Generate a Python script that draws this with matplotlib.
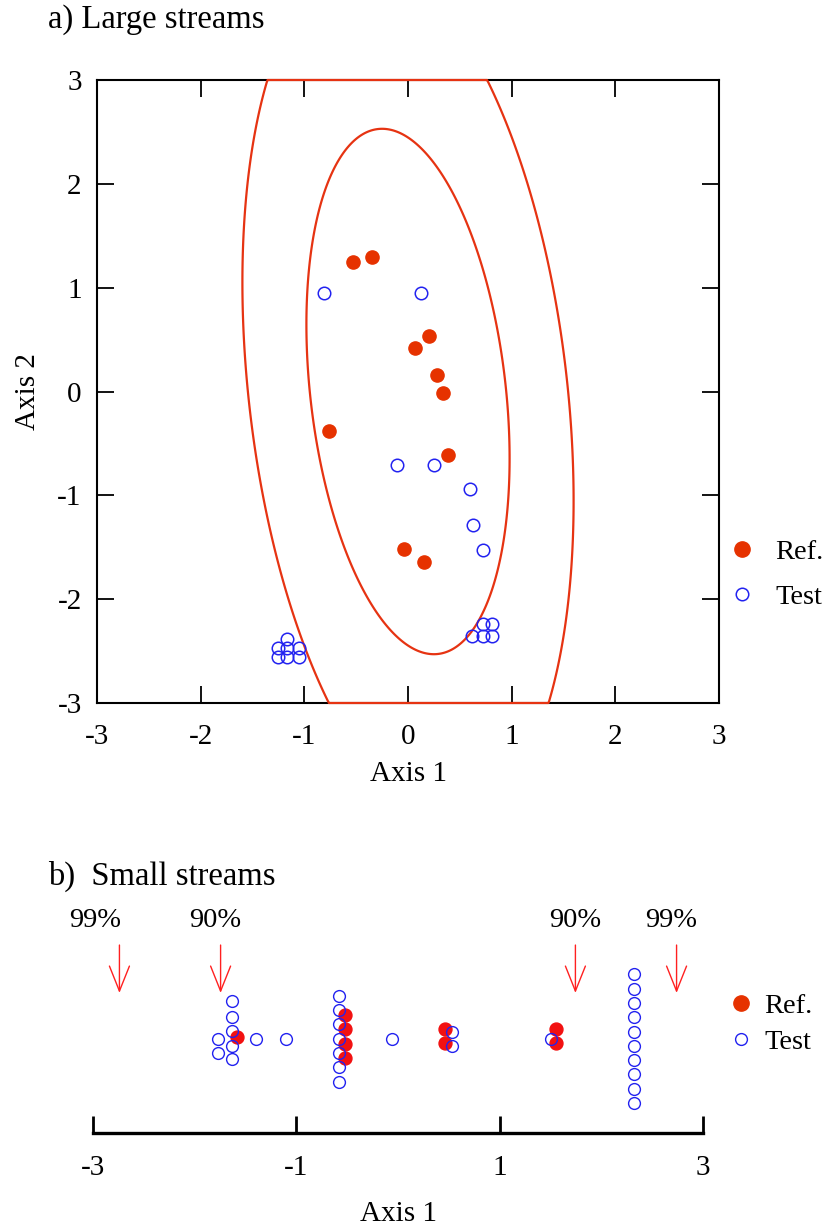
import numpy as np
import matplotlib
matplotlib.use("Agg")
import matplotlib.pyplot as plt
from matplotlib.lines import Line2D
from matplotlib.patches import Polygon

plt.rcParams['font.family'] = ['Liberation Serif', 'DejaVu Serif']
plt.rcParams['axes.unicode_minus'] = False

# ---------------- Panel a) Large streams ----------------
ref_a_x = [-0.53, -0.35, 0.20, 0.07, 0.28, 0.34, -0.76, 0.39, -0.04, 0.15]
ref_a_y = [1.245, 1.30, 0.535, 0.415, 0.16, -0.01, -0.385, -0.615, -1.52, -1.645]

test_a_x = [-0.81, 0.13, -0.11, 0.25, 0.60, 0.63, 0.72,
            0.615, 0.72, 0.81, 0.72, 0.81,
            -1.17, -1.25, -1.165, -1.05, -1.25, -1.165, -1.05]
test_a_y = [0.95, 0.95, -0.705, -0.705, -0.94, -1.29, -1.53,
            -2.355, -2.355, -2.355, -2.235, -2.235,
            -2.38, -2.475, -2.475, -2.475, -2.555, -2.555, -2.555]

# confidence ellipse parameters (centre, spread, correlation, 90% / 99% scale)
ell_center = (0.0, 0.0)
ell_sx = 0.98
ell_sy = 2.53
ell_rho = -0.255
ell_scales = [1.0, 1.63]

ticks_a = [-3, -2, -1, 0, 1, 2, 3]
tick_labels_a = ['-3', '-2', '-1', '0', '1', '2', '3']

# ---------------- Panel b) Small streams ----------------
test_b_x = [-1.767, -1.767,
            -1.629, -1.629, -1.629, -1.629, -1.629,
            -1.399, -1.104,
            -0.580, -0.580, -0.580, -0.580, -0.580, -0.580, -0.580,
            -0.062,
            0.534, 0.534,
            1.504,
            2.318, 2.318, 2.318, 2.318, 2.318, 2.318, 2.318, 2.318, 2.318, 2.318]
test_b_stack = [0.0, -0.97,
                2.66, 1.5, 0.54, -0.51, -1.44,
                0.0, 0.0,
                3.0, 2.0, 1.0, 0.0, -1.0, -2.0, -3.0,
                0.0,
                0.49, -0.51,
                0.0,
                4.5, 3.5, 2.5, 1.5, 0.5, -0.5, -1.5, -2.5, -3.5, -4.5]

ref_b_x = [-1.580, -0.518, -0.518, -0.518, -0.518, 0.462, 0.462, 1.554, 1.554]
ref_b_stack = [0.14, 1.64, 0.66, -0.37, -1.37, 0.66, -0.32, 0.68, -0.32]

limit_x = [-2.74, -1.745, 1.745, 2.74]
limit_label_x = [-2.98, -1.80, 1.745, 2.69]
limit_labels = ['99%', '90%', '90%', '99%']

ticks_b = [-3, -1, 1, 3]
tick_labels_b = ['-3', '-1', '1', '3']

ELL_COLOR = '#E63312'
REF_A_COLOR = '#E63200'
REF_B_COLOR = '#F21111'
TEST_COLOR = '#2222F0'
FS = 21
FS_TITLE = 23.5
FS_LEG = 20.5

W, H = 834, 1226
fig = plt.figure(figsize=(W / 100, H / 100), dpi=100)

# ---------- top axes ----------
axA = fig.add_axes([97 / W, 1 - 703 / H, 622 / W, 623 / H])
axA.set_xlim(-3, 3)
axA.set_ylim(-3, 3)

t = np.linspace(0, 2 * np.pi, 721)[:-1]
for k in ell_scales:
    ex = ell_center[0] + k * ell_sx * np.cos(t)
    ey = ell_center[1] + k * ell_sy * (ell_rho * np.cos(t) + np.sqrt(1 - ell_rho ** 2) * np.sin(t))
    ey = np.clip(ey, -3, 3)
    axA.add_patch(Polygon(np.column_stack([ex, ey]), closed=True, fill=False,
                          edgecolor=ELL_COLOR, lw=1.6, zorder=3, clip_on=False,
                          joinstyle='round'))

axA.plot(ref_a_x, ref_a_y, 'o', ms=9.5, color=REF_A_COLOR, mec=REF_A_COLOR, zorder=4)
axA.plot(test_a_x, test_a_y, 'o', ms=9, mfc='none', mec=TEST_COLOR, mew=1.1, zorder=4)

axA.set_xticks(ticks_a)
axA.set_xticklabels(tick_labels_a)
axA.set_yticks(ticks_a)
axA.set_yticklabels(tick_labels_a)
axA.tick_params(direction='in', length=12, width=1.3, top=True, right=True, labelsize=FS)
axA.tick_params(axis='x', pad=15)
axA.tick_params(axis='y', pad=11)
for s in axA.spines.values():
    s.set_linewidth(1.5)
axA.set_xlabel('Axis 1', fontsize=FS, labelpad=8)
axA.set_ylabel('Axis 2', fontsize=FS, labelpad=12)

fig.text(48 / W, 1 - 20 / H, 'a) Large streams', fontsize=FS_TITLE, ha='left', va='center')

hA = [Line2D([], [], ls='none', marker='o', ms=11, color=REF_A_COLOR),
      Line2D([], [], ls='none', marker='o', ms=9, mfc='none', mec=TEST_COLOR, mew=1.1)]
axA.legend(hA, ['Ref.', 'Test'], loc='center left', bbox_to_anchor=(728 / W, 1 - 574.5 / H),
           bbox_transform=fig.transFigure, frameon=False, fontsize=FS_LEG, handlelength=1.0,
           handletextpad=0.65, labelspacing=0.65, borderpad=0, borderaxespad=0)

# ---------- bottom axes ----------
axB = fig.add_axes([93 / W, 1 - 1133 / H, 610 / W, 233 / H])
axB.set_xlim(-3, 3)
axB.set_ylim(-6.594, 9.70)
for side in ['left', 'right', 'top']:
    axB.spines[side].set_visible(False)
axB.spines['bottom'].set_linewidth(2.4)
axB.set_yticks([])
axB.set_xticks(ticks_b)
axB.set_xticklabels(tick_labels_b)
axB.tick_params(axis='x', direction='in', length=12, width=2, labelsize=FS, pad=16)
axB.set_xlabel('Axis 1', fontsize=FS, labelpad=14)

axB.plot(test_b_x, test_b_stack, 'o', ms=8.5, mfc='none', mec=TEST_COLOR, mew=1.0, zorder=3)
axB.plot(ref_b_x, ref_b_stack, 'o', ms=9.3, color=REF_B_COLOR, mec=REF_B_COLOR, zorder=2)

for xa, xl, lab in zip(limit_x, limit_label_x, limit_labels):
    axB.annotate('', xy=(xa, 3.2), xytext=(xa, 6.55),
                 arrowprops=dict(arrowstyle='->,head_length=0.9,head_width=0.36',
                                 color='#FF2020', lw=1.0, mutation_scale=20,
                                 shrinkA=0, shrinkB=0))
    axB.text(xl, 8.3, lab, fontsize=FS_LEG, ha='center', va='center')

fig.text(48 / W, 1 - 876 / H, 'b)  Small streams', fontsize=FS_TITLE, ha='left', va='center')

hB = [Line2D([], [], ls='none', marker='o', ms=11, color=REF_A_COLOR),
      Line2D([], [], ls='none', marker='o', ms=8.5, mfc='none', mec=TEST_COLOR, mew=1.0)]
axB.legend(hB, ['Ref.', 'Test'], loc='center left', bbox_to_anchor=(727 / W, 1 - 1024 / H),
           bbox_transform=fig.transFigure, frameon=False, fontsize=FS_LEG, handlelength=1.0,
           handletextpad=0.3, labelspacing=0.33, borderpad=0, borderaxespad=0)

fig.savefig('out.png', dpi=100)
